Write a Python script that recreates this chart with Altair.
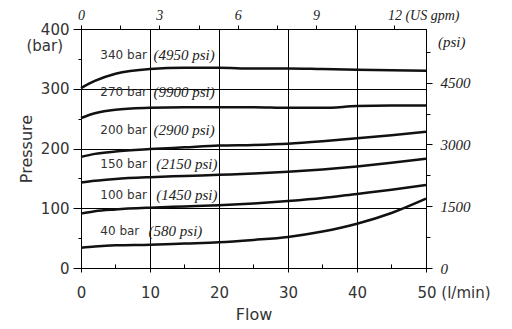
import altair as alt
import pandas as pd

# ---- data ----
flow = [0, 2, 5, 10, 15, 20, 25, 30, 35, 40, 45, 50]  # l/min
p340 = [301, 313, 325, 333, 335, 335, 334, 334, 333, 332, 331, 330]
p270 = [251, 259, 265, 268, 269, 269, 269, 268, 268, 271, 272, 272]
p200 = [186, 191, 195, 199, 202, 205, 206, 208, 212, 217, 222, 228]
p150 = [143, 146, 149, 152, 154, 156, 158, 161, 165, 170, 176, 183]
p100 = [91, 95, 98, 101, 103, 105, 108, 112, 117, 124, 131, 139]
p40 = [34, 36, 38, 39, 41, 43, 47, 52, 61, 74, 92, 116]
series_names = ["340", "270", "200", "150", "100", "40"]

label_bar = ["340 bar", "270 bar", "200 bar", "150 bar", "100 bar", "40 bar"]
label_psi = ["(4950 psi)", "(9900 psi)", "(2900 psi)", "(2150 psi)", "(1450 psi)", "(580 psi)"]
label_y = [356, 295, 231, 174, 122, 62]
label_x = [2.8, 2.8, 2.8, 2.8, 2.8, 2.8]
psi_x = [10.5, 10.5, 10.5, 10.9, 10.9, 9.8]

flow_ticks = [0, 10, 20, 30, 40, 50]
flow_minor = [5, 15, 25, 35, 45]
bar_ticks = [0, 50, 100, 150, 200, 250, 300, 350, 400]
gpm_ticks = [0, 1.5, 3, 4.5, 6, 7.5, 9, 10.5, 12]
psi_ticks = [0, 750, 1500, 2250, 3000, 3750, 4500, 5250]

LPM_PER_GPM = 3.785411784
PSI_PER_BAR = 14.5037738

rows = []
for name, vals in zip(series_names, [p340, p270, p200, p150, p100, p40]):
    for f, v in zip(flow, vals):
        rows.append({"series": name, "flow": f, "pressure": v})
df = pd.DataFrame(rows)

lab = pd.DataFrame({"bar": label_bar, "psi": label_psi, "y": label_y,
                    "x": label_x, "px": psi_x})
minor_df = pd.DataFrame({"flow": flow_minor, "y0": [0] * 5, "y1": [6] * 5})

xs = alt.Scale(domain=[0, 50], nice=False, zero=False)
ys = alt.Scale(domain=[0, 400], nice=False)

SANS = "DejaVu Sans"
SERIF = "Liberation Serif"
TICK = "black"

bottom_axis = alt.Axis(
    orient="bottom", values=flow_ticks, title="Flow",
    labelExpr="datum.value === 50 ? '50 (l/min)' : datum.label",
    labelAlign={"condition": {"test": "datum.value === 50", "value": "left"}, "value": "center"},
    labelOffset={"condition": {"test": "datum.value === 50", "value": -9}, "value": 0},
    labelFont=SANS, labelFontSize=15, labelColor="#333", labelPadding=13,
    titleFont=SANS, titleFontSize=16, titleFontWeight="normal", titleColor="#333", titlePadding=6,
    ticks=True, tickSize=4, tickWidth=1, tickColor=TICK, domainColor="black",
    grid=True, gridColor="black", gridWidth=1, gridOpacity=1,
)
left_axis = alt.Axis(
    orient="left", values=bar_ticks, title="Pressure",
    labelExpr="datum.value % 100 === 0 ? datum.label : ''",
    tickSize={"condition": {"test": "datum.value % 100 === 0", "value": 8}, "value": 3},
    labelFont=SANS, labelFontSize=15, labelColor="#333", labelPadding=4,
    titleFont=SANS, titleFontSize=16, titleFontWeight="normal", titleColor="#333", titlePadding=6,
    ticks=True, tickWidth=1, tickColor=TICK, domainColor="black",
    grid=True, gridColor="black", gridWidth=1,
    gridOpacity={"condition": {"test": "datum.value % 100 === 0", "value": 1}, "value": 0},
)
top_axis = alt.Axis(
    orient="top", values=[g * LPM_PER_GPM for g in gpm_ticks], title=None,
    labelExpr=("(round(datum.value / 3.785411784 * 10) / 10) % 3 === 0 ? "
               "((round(datum.value / 3.785411784) === 12) ? '12 (US gpm)' : "
               "format(round(datum.value / 3.785411784), 'd')) : ''"),
    labelAlign={"condition": {"test": "round(datum.value / 3.785411784) === 12", "value": "left"}, "value": "center"},
    labelOffset={"condition": {"test": "round(datum.value / 3.785411784) === 12", "value": -7}, "value": 0},
    labelFont=SERIF, labelFontStyle="italic", labelFontSize=14, labelColor="#222", labelPadding=3,
    ticks=True, tickSize=4, tickWidth=1, tickColor=TICK, domainColor="black", grid=False,
)
right_axis = alt.Axis(
    orient="right", values=[p / PSI_PER_BAR for p in psi_ticks], title=None,
    labelExpr=("round(datum.value * 14.5037738) % 1500 === 0 ? "
               "format(round(datum.value * 14.5037738), 'd') : ''"),
    tickSize={"condition": {"test": "round(datum.value * 14.5037738) % 1500 === 0", "value": 6}, "value": 4},
    labelFont=SERIF, labelFontStyle="italic", labelFontSize=15, labelColor="#222", labelPadding=8,
    ticks=True, tickWidth=1, tickColor=TICK, domainColor="black", grid=False,
)

lines = alt.Chart(df).mark_line(color="#111", strokeWidth=2.5, interpolate="monotone").encode(
    x=alt.X("flow:Q", scale=xs, axis=bottom_axis),
    y=alt.Y("pressure:Q", scale=ys, axis=left_axis),
    detail="series:N",
)

psi_text = alt.Chart(lab).mark_text(
    align="left", baseline="middle", font=SERIF, fontStyle="italic", fontSize=15, color="#222"
).encode(
    x=alt.X("px:Q", scale=xs, axis=top_axis),
    y=alt.Y("y:Q", scale=ys, axis=right_axis),
    text="psi:N",
)

bar_text = alt.Chart(lab).mark_text(
    align="left", baseline="middle", font=SANS, fontSize=12, color="#333"
).encode(
    x=alt.X("x:Q", scale=xs, axis=None),
    y=alt.Y("y:Q", scale=ys, axis=None),
    text="bar:N",
)

minor = alt.Chart(minor_df).mark_rule(color="black", strokeWidth=1).encode(
    x=alt.X("flow:Q", scale=xs, axis=None),
    y=alt.Y("y0:Q", scale=ys, axis=None),
    y2="y1:Q",
)

unit_df = pd.DataFrame({"t": ["(bar)", "(psi)"], "x": [0, 50], "y": [371, 379]})
bar_unit = alt.Chart(unit_df).transform_filter("datum.t === '(bar)'").mark_text(
    align="right", baseline="middle", dx=-18, font=SANS, fontSize=15, color="#333"
).encode(
    x=alt.X("x:Q", scale=xs, axis=None), y=alt.Y("y:Q", scale=ys, axis=None), text="t:N"
)
psi_unit = alt.Chart(unit_df).transform_filter("datum.t === '(psi)'").mark_text(
    align="left", baseline="middle", dx=12, font=SERIF, fontStyle="italic", fontSize=15, color="#222"
).encode(
    x=alt.X("x:Q", scale=xs, axis=None), y=alt.Y("y:Q", scale=ys, axis=None), text="t:N"
)

chart = alt.layer(lines, psi_text, bar_text, minor, bar_unit, psi_unit).resolve_axis(
    x="independent", y="independent"
).properties(
    width=345, height=239,
    autosize=alt.AutoSizeParams(type="none"),
    padding={"left": 73, "top": 21, "right": 78, "bottom": 58},
).configure_view(strokeWidth=0).configure(background="white")

chart.save("out.html", embed_options={"renderer": "svg", "actions": False})
